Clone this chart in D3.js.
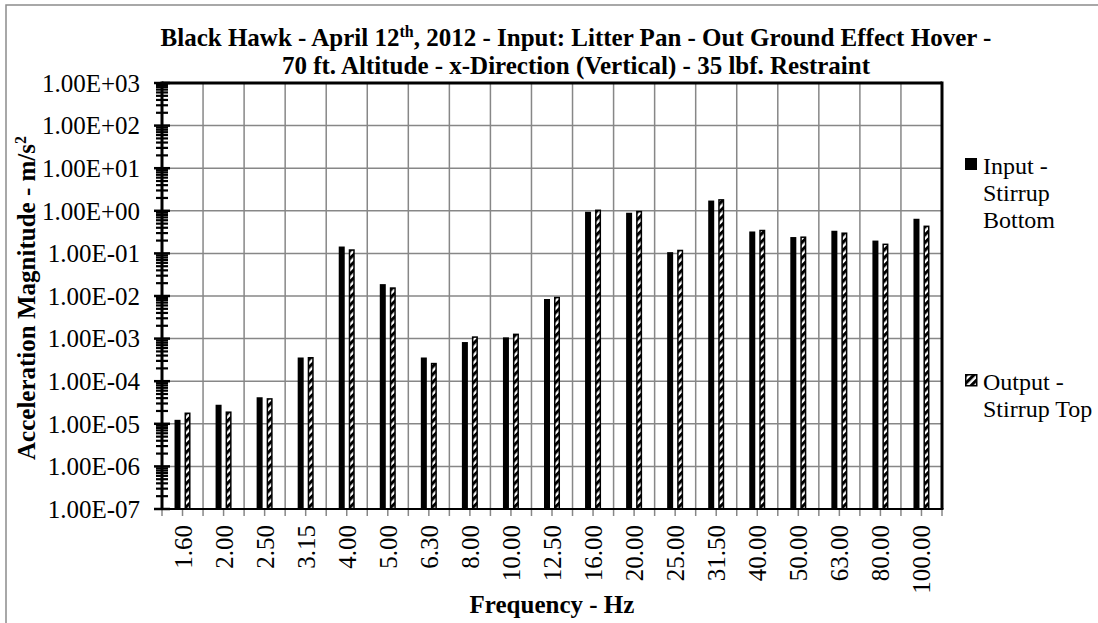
<!DOCTYPE html>
<html><head><meta charset="utf-8">
<script src="https://cdn.jsdelivr.net/npm/d3@7"></script>
<style>
html,body{margin:0;padding:0;background:#fff;}
svg{display:block;font-family:"Liberation Serif","Times New Roman",serif;}
</style></head><body>
<svg id="chart" width="1098" height="623"></svg>
<script>
// Third-octave band centre frequencies (Hz)
const frequencies = ["1.60","2.00","2.50","3.15","4.00","5.00","6.30","8.00","10.00","12.50",
  "16.00","20.00","25.00","31.50","40.00","50.00","63.00","80.00","100.00"];
// Acceleration magnitude, m/s^2
const inputStirrupBottom = [1.24e-5, 2.8e-5, 4.2e-5, 3.6e-4, 0.145, 0.019, 3.6e-4, 8.3e-4, 1.07e-3, 8.5e-3,
  0.95, 0.9, 0.107, 1.74, 0.327, 0.242, 0.34, 0.2, 0.65];
const outputStirrupTop = [1.84e-5, 1.95e-5, 4.0e-5, 3.7e-4, 0.125, 0.016, 2.7e-4, 1.13e-3, 1.31e-3, 9.6e-3,
  1.07, 1.0, 0.122, 1.88, 0.359, 0.25, 0.31, 0.17, 0.45];
const seriesKeys = ["input", "output"];
const legendLines = [["Input -", "Stirrup", "Bottom"], ["Output -", "Stirrup Top"]];
const yTickValues = [1e-7, 1e-6, 1e-5, 1e-4, 1e-3, 1e-2, 1e-1, 1e0, 1e1, 1e2, 1e3];
const yTickLabels = ["1.00E-07","1.00E-06","1.00E-05","1.00E-04","1.00E-03","1.00E-02",
  "1.00E-01","1.00E+00","1.00E+01","1.00E+02","1.00E+03"];

const svg = d3.select("#chart");
const L = 162, R = 942, T = 83, B = 509;
const grid = "#878787";

const rows = frequencies.map((f, i) => ({f, input: inputStirrupBottom[i], output: outputStirrupTop[i]}));

const x0 = d3.scaleBand().domain(frequencies).range([L, R]).padding(0);
const bw = x0.bandwidth();
const x1 = d3.scaleBand().domain(seriesKeys).range([bw * 0.305, bw * 0.695]).paddingInner(0.4);
const y = d3.scaleLog().domain([1e-7, 1e3]).range([B, T]);

// hatch pattern for the output series
const defs = svg.append("defs");
const pat = defs.append("pattern").attr("id", "hatch").attr("patternUnits", "userSpaceOnUse")
  .attr("width", 5.5).attr("height", 5.5).attr("patternTransform", "rotate(45)");
pat.append("rect").attr("width", 5.5).attr("height", 5.5).attr("fill", "#fff");
pat.append("rect").attr("width", 3.1).attr("height", 5.5).attr("fill", "#000");

// chart area border
svg.append("rect").attr("x", 6).attr("y", 5).attr("width", 1200).attr("height", 700)
  .attr("fill", "none").attr("stroke", "#8c8c8c").attr("stroke-width", 1.5);

// gridlines
svg.append("g").selectAll("line").data(yTickValues.slice(1, -1)).join("line")
  .attr("x1", L).attr("x2", R).attr("y1", d => y(d)).attr("y2", d => y(d))
  .attr("stroke", grid).attr("stroke-width", 1.5);
svg.append("g").selectAll("line").data(frequencies.slice(1)).join("line")
  .attr("x1", d => x0(d)).attr("x2", d => x0(d)).attr("y1", T).attr("y2", B)
  .attr("stroke", grid).attr("stroke-width", 1.5);

// x tick marks at category edges and centres
const halfTicks = [];
frequencies.forEach(f => { halfTicks.push(x0(f)); halfTicks.push(x0(f) + bw / 2); });
halfTicks.push(R);
svg.append("g").selectAll("line").data(halfTicks).join("line")
  .attr("x1", d => d).attr("x2", d => d).attr("y1", B).attr("y2", B + 7)
  .attr("stroke", grid).attr("stroke-width", 1.5);

// bars
const groups = svg.append("g").selectAll("g").data(rows).join("g")
  .attr("transform", d => `translate(${x0(d.f)},0)`);
groups.append("rect")
  .attr("x", x1("input")).attr("width", x1.bandwidth())
  .attr("y", d => y(d.input)).attr("height", d => B - y(d.input))
  .attr("fill", "#000");
groups.append("rect")
  .attr("x", x1("output") + 0.75).attr("width", x1.bandwidth() - 1.5)
  .attr("y", d => y(d.output) + 0.75).attr("height", d => B - y(d.output) - 0.75)
  .attr("fill", "url(#hatch)").attr("stroke", "#000").attr("stroke-width", 1.5);

// plot frame
svg.append("line").attr("x1", L).attr("x2", R).attr("y1", T).attr("y2", T).attr("stroke", "#000").attr("stroke-width", 3);
svg.append("line").attr("x1", R).attr("x2", R).attr("y1", T - 1.5).attr("y2", B).attr("stroke", "#000").attr("stroke-width", 3);
svg.append("line").attr("x1", L).attr("x2", R + 1.5).attr("y1", B).attr("y2", B).attr("stroke", "#000").attr("stroke-width", 2);

// y axis: labels
const yAxis = svg.append("g").attr("transform", `translate(${L},0)`)
  .call(d3.axisLeft(y).tickValues(yTickValues).tickFormat((d, i) => yTickLabels[i]).tickSize(0).tickPadding(22));
yAxis.select(".domain").remove();
yAxis.selectAll("text").attr("font-size", 25).attr("font-family", "Liberation Serif").attr("fill", "#000").attr("dy", "0.33em");

// y axis: minor and major ticks
const minor = [];
for (let n = -7; n < 3; n++) for (let k = 2; k <= 9; k++) minor.push(k * Math.pow(10, n));
svg.append("g").selectAll("line").data(minor).join("line")
  .attr("x1", L - 6).attr("x2", L + 6).attr("y1", d => y(d)).attr("y2", d => y(d))
  .attr("stroke", "#000").attr("stroke-width", 2.2);
svg.append("g").selectAll("line").data(yTickValues).join("line")
  .attr("x1", L - 8).attr("x2", L + 8).attr("y1", d => y(d)).attr("y2", d => y(d))
  .attr("stroke", "#000").attr("stroke-width", 2.5);
svg.append("line").attr("x1", L).attr("x2", L).attr("y1", T - 1.5).attr("y2", B + 1).attr("stroke", "#000").attr("stroke-width", 3);

// x axis labels
const xAxis = svg.append("g").attr("transform", `translate(0,${B})`)
  .call(d3.axisBottom(x0).tickSize(0));
xAxis.select(".domain").remove();
xAxis.selectAll("text").attr("font-size", 25).attr("font-family", "Liberation Serif").attr("fill", "#000")
  .attr("text-anchor", "end").attr("transform", "rotate(-90)")
  .attr("x", -16).attr("y", 9).attr("dy", 0);

// title
const title = svg.append("text").attr("x", 576).attr("y", 46).attr("text-anchor", "middle")
  .attr("font-size", 25).attr("font-weight", "bold");
title.append("tspan").text("Black Hawk - April 12");
title.append("tspan").attr("font-size", 16).attr("dy", -9).text("th");
title.append("tspan").attr("dy", 9).text(", 2012 - Input: Litter Pan - Out Ground Effect Hover -");
svg.append("text").attr("x", 576).attr("y", 74).attr("text-anchor", "middle")
  .attr("font-size", 25).attr("font-weight", "bold")
  .text("70 ft. Altitude - x-Direction (Vertical) - 35 lbf. Restraint");

// axis titles
const yt = svg.append("text").attr("transform", "translate(35,298) rotate(-90)")
  .attr("text-anchor", "middle").attr("font-size", 25).attr("font-weight", "bold");
yt.append("tspan").text("Acceleration Magnitude - m/s");
yt.append("tspan").attr("font-size", 16).attr("dy", -9).text("2");
svg.append("text").attr("x", 552).attr("y", 613).attr("text-anchor", "middle")
  .attr("font-size", 25).attr("font-weight", "bold").text("Frequency - Hz");

// legend
const legendTop = [158, 374];
legendLines.forEach((lines, i) => {
  const g = svg.append("g").attr("transform", `translate(965,${legendTop[i]})`);
  if (i === 0) g.append("rect").attr("width", 12).attr("height", 12).attr("fill", "#000");
  else g.append("rect").attr("x", 0.75).attr("y", 0.75).attr("width", 11).attr("height", 11)
    .attr("fill", "url(#hatch)").attr("stroke", "#000").attr("stroke-width", 1.5);
  const t = g.append("text").attr("x", 18).attr("y", 16).attr("font-size", 24);
  lines.forEach((s, j) => t.append("tspan").attr("x", 18).attr("dy", j === 0 ? 0 : 27).text(s));
});
</script>
</body></html>
